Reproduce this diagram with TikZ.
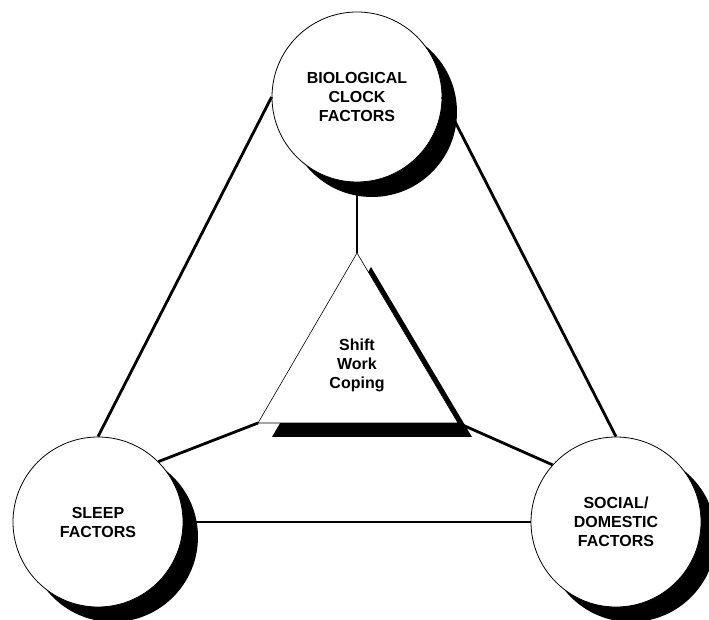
\documentclass[tikz,border=0pt]{standalone}
\usepackage{fontspec}
\setmainfont{Liberation Sans}
\usetikzlibrary{positioning,shadows}

\begin{document}
\begin{tikzpicture}[
  x=1pt, y=1pt,
  font=\fontsize{16}{19}\selectfont\bfseries,
  % factor circles
  factor/.style={circle, draw=black, line width=0.8pt, fill=white,
                 minimum size=170pt, inner sep=0pt, align=center,
                 drop shadow={shadow xshift=15pt, shadow yshift=-15pt,
                              fill=black, opacity=1}},
  % central triangle
  coreshadow/.style={fill=black},
  coretri/.style={draw=black, line width=0.6pt, fill=white},
  corelabel/.style={align=center, inner sep=0pt},
  % connectors
  link/.style={draw=black, line width=2.8pt}
]
  \useasboundingbox (0,0) rectangle (709,620);
  \clip (0,0) rectangle (709,620);

  % =============================================================
  % Central triangle
  % =============================================================
  \coordinate (tA) at (357,367);
  \coordinate (tL) at (258,197);
  \coordinate (tR) at (458,197);

  \fill[coreshadow] ([shift={(14,-14)}]tA) -- ([shift={(14,-14)}]tL)
        -- ([shift={(14,-14)}]tR) -- cycle;
  \filldraw[coretri] (tA) -- (tL) -- (tR) -- cycle;
  \node[corelabel] (core) at (357,255) {Shift\\Work\\Coping};

  % =============================================================
  % Factor circles
  % =============================================================
  \node[factor] (bio)    at (357,523) {BIOLOGICAL\\CLOCK\\FACTORS};
  \node[factor] (sleep)  at (98,98)   {SLEEP\\FACTORS};
  \node[factor] (social) at (616,98)  {SOCIAL/\\DOMESTIC\\FACTORS};

  % --- outer triangle of links ---
  \draw[link] (bio.west) -- (sleep.north);
  \draw[link] (bio.east) -- (social.north);
  \draw[link] (sleep.east) -- (social.west);

  % --- spokes to the centre ---
  \draw[link] (bio.south) -- (tA);
  \draw[link] (sleep.45) -- (tL);
  \draw[link] (social.138) -- (tR);
\end{tikzpicture}
\end{document}
